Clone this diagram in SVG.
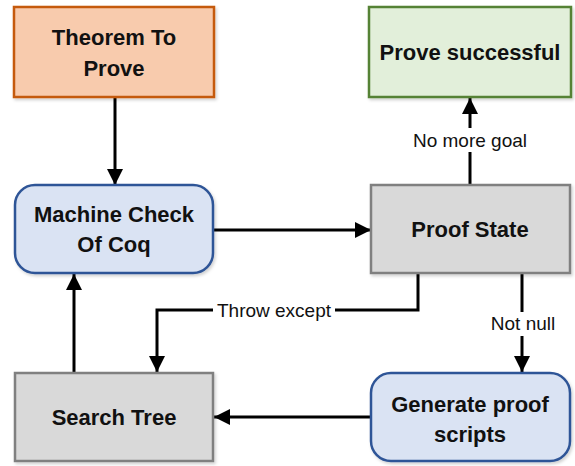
<svg xmlns="http://www.w3.org/2000/svg" width="575" height="466" viewBox="0 0 575 466">
  <defs>
    <marker id="arrow" markerUnits="userSpaceOnUse" markerWidth="16" markerHeight="16" viewBox="0 0 16 16" refX="16" refY="8" orient="auto">
      <path d="M0,0 L16,8 L0,16 Z" fill="#000"/>
    </marker>
    <filter id="shadow" x="-10%" y="-10%" width="125%" height="130%">
      <feDropShadow dx="1.5" dy="2" stdDeviation="1.5" flood-color="#000" flood-opacity="0.18"/>
    </filter>
  </defs>
  <style>
    .box { stroke-width: 2.5; filter: url(#shadow); }
    .orange { fill: #F8CBAD; stroke: #C55A11; }
    .green { fill: #E2EFDA; stroke: #548235; }
    .blue { fill: #DAE3F3; stroke: #2F5597; }
    .gray { fill: #D9D9D9; stroke: #808080; }
    .title { font-family: "Liberation Sans", Arial, sans-serif; font-weight: bold; font-size: 22px; fill: #111; text-anchor: middle; }
    .lbl { font-family: "Liberation Sans", Arial, sans-serif; font-size: 19px; fill: #111; text-anchor: middle; }
    .edge { fill: none; stroke: #000; stroke-width: 3; marker-end: url(#arrow); }
    .bg { fill: #fff; }
  </style>

  <g id="connectors">
    <path class="edge" d="M115,97 L115,185"/>
    <path class="edge" d="M213,230 L371,230"/>
    <path class="edge" d="M470,185 L470,98"/>
    <path class="edge" d="M418,273 L418,310 L157,310 L157,372"/>
    <path class="edge" d="M522,273 L522,372"/>
    <path class="edge" d="M371,417 L214,417"/>
    <path class="edge" d="M74,373 L74,274"/>
    <rect class="bg" x="412" y="128" width="118" height="24"/>
    <text class="lbl" x="470" y="147">No more goal</text>
    <rect class="bg" x="213" y="299" width="122" height="22"/>
    <text class="lbl" x="274" y="317">Throw except</text>
    <rect class="bg" x="487" y="312" width="72" height="24"/>
    <text class="lbl" x="523" y="330">Not null</text>
  </g>

  <g id="theorem">
    <rect class="box orange" x="14" y="7" width="200" height="90"/>
    <text class="title" x="114" y="45">Theorem To</text>
    <text class="title" x="114" y="76">Prove</text>
  </g>

  <g id="prove-successful">
    <rect class="box green" x="369" y="7" width="202" height="90"/>
    <text class="title" x="470" y="60">Prove successful</text>
  </g>

  <g id="machine-check">
    <rect class="box blue" x="15" y="185" width="198" height="88" rx="20" ry="20"/>
    <text class="title" x="114" y="222">Machine Check</text>
    <text class="title" x="114" y="252">Of Coq</text>
  </g>

  <g id="proof-state">
    <rect class="box gray" x="371" y="185" width="199" height="88"/>
    <text class="title" x="470" y="237">Proof State</text>
  </g>

  <g id="search-tree">
    <rect class="box gray" x="15" y="373" width="198" height="88"/>
    <text class="title" x="114" y="425">Search Tree</text>
  </g>

  <g id="generate-scripts">
    <rect class="box blue" x="371" y="373" width="199" height="88" rx="20" ry="20"/>
    <text class="title" x="470" y="412">Generate proof</text>
    <text class="title" x="470" y="442">scripts</text>
  </g>
</svg>
